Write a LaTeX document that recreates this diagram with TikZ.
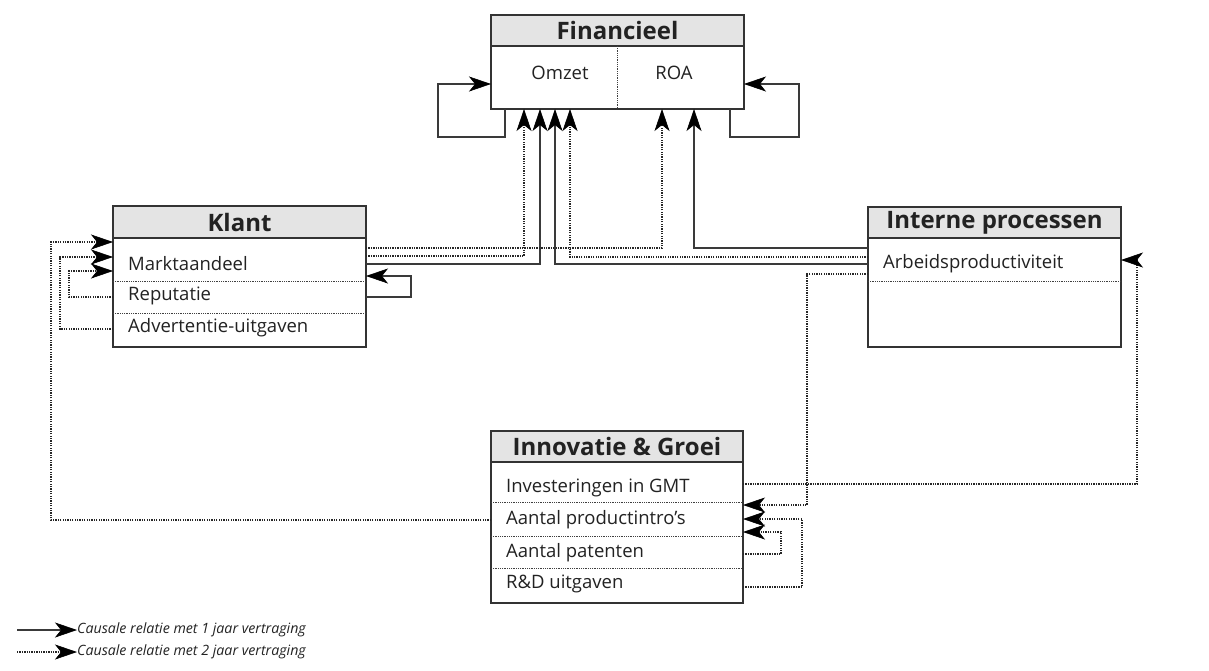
\documentclass[tikz,border=0pt]{standalone}
\usepackage{fontspec}
\setmainfont{Open Sans}
\usetikzlibrary{arrows.meta}
\definecolor{boxgray}{HTML}{333333}
\definecolor{headgray}{HTML}{E4E4E4}
\definecolor{linegray}{HTML}{3A3A3A}
\definecolor{txt}{HTML}{222222}
\begin{document}
\begin{tikzpicture}[x=1pt,y=-1pt,
  box/.style={draw=boxgray, line width=1.2pt, fill=white, anchor=north west, inner sep=0pt, outer sep=0pt},
  head/.style={draw=boxgray, line width=1.2pt, fill=headgray, anchor=north west, inner sep=0pt, outer sep=0pt, text=txt, font=\bfseries\fontsize{24}{27}\selectfont},
  rowtext/.style={anchor=west, inner sep=0pt, text=txt, font=\fontsize{18.5}{20}\selectfont},
  legtext/.style={anchor=west, inner sep=0pt, text=txt, font=\itshape\fontsize{14.2}{16}\selectfont},
  divider/.style={draw=black!75, line width=0.6pt, dash pattern=on 1pt off 0.8pt},
  tipc/.style={-{Stealth[length=22pt,width=15pt,inset=6pt,color=black,line width=0.6pt]}},
  solidc/.style={tipc, draw=linegray, line width=1.5pt},
  dotc/.style={tipc, draw=black!85, line width=1.1pt, dash pattern=on 1.3pt off 1.1pt},
]
\useasboundingbox (0,0) rectangle (1209,670);

% Financieel
\node[head, minimum width=253pt, minimum height=31pt] (finh) at (491,15) {Financieel};
\node[box, minimum width=253pt, minimum height=63pt] (fin) at (491,46) {};
\draw[divider] (fin.north) -- (fin.south);
\node[rowtext, anchor=center] (omzet) at (560,73) {Omzet};
\node[rowtext, anchor=center] (roa) at (674,73) {ROA};

% Klant
\node[head, minimum width=253pt, minimum height=32pt] (klanth) at (113,206) {Klant};
\node[box, minimum width=253pt, minimum height=109pt] (klant) at (113,238) {};
\draw[divider] (klant.west |- 0,281) -- (klant.east |- 0,281);
\draw[divider] (klant.west |- 0,313) -- (klant.east |- 0,313);
\node[rowtext] (markt) at (128,264) {Marktaandeel};
\node[rowtext] (rep) at (128,296) {Reputatie};
\node[rowtext] (adv) at (128,328) {Advertentie-uitgaven};

% Interne processen
\node[head, minimum width=253pt, minimum height=31pt] (inth) at (868,207) {Interne processen};
\node[box, minimum width=253pt, minimum height=109pt] (int) at (868,238) {};
\draw[divider] (int.west |- 0,281) -- (int.east |- 0,281);
\node[rowtext] (arb) at (883,264) {Arbeidsproductiviteit};

% Innovatie & Groei
\node[head, minimum width=252pt, minimum height=31pt] (innh) at (491,431) {Innovatie \& Groei};
\node[box, minimum width=252pt, minimum height=141pt] (inn) at (491,462) {};
\draw[divider] (inn.west |- 0,502) -- (inn.east |- 0,502);
\draw[divider] (inn.west |- 0,536) -- (inn.east |- 0,536);
\draw[divider] (inn.west |- 0,568) -- (inn.east |- 0,568);
\node[rowtext] (invest) at (506,488) {Investeringen in GMT};
\node[rowtext] (prod) at (506,520) {Aantal productintro's};
\node[rowtext] (pat) at (506,553) {Aantal patenten};
\node[rowtext] (rd) at (506,584) {R\&D uitgaven};

% Financieel self loops
\draw[solidc] (fin.south -| 505,0) |- (438,137) |- (fin.west |- 0,84);
\draw[solidc] (fin.south -| 730,0) |- (799,137) |- (fin.east |- 0,84);

% into Financieel
\draw[dotc] (klant.east |- 0,256) -| (fin.south -| 524,0);
\draw[solidc] (klant.east |- 0,264) -| (fin.south -| 540,0);
\draw[dotc] (klant.east |- 0,248) -| (fin.south -| 662,0);
\draw[solidc] (int.west |- 0,264) -| (fin.south -| 555,0);
\draw[dotc] (int.west |- 0,257) -| (fin.south -| 570,0);
\draw[solidc] (int.west |- 0,248) -| (fin.south -| 694,0);

% Klant loops
\draw[solidc] (klant.east |- 0,297) -| (411,276) -- (klant.east |- 0,276);
\draw[dotc] (inn.west |- 0,520) -| (51,242) -- (klant.west |- 0,242);
\draw[dotc] (klant.west |- 0,329) -| (60,257) -- (klant.west |- 0,257);
\draw[dotc] (klant.west |- 0,297) -| (69,271) -- (klant.west |- 0,271);

% Innovatie / Interne
\draw[dotc] (int.west |- 0,274) -| (807,505) -- (inn.east |- 0,505);
\draw[dotc] (inn.east |- 0,484) -| (1137,260) -- (int.east |- 0,260);
\draw[dotc] (inn.east |- 0,587) -| (802,519) -- (inn.east |- 0,519);
\draw[dotc] (inn.east |- 0,554) -| (781,532) -- (inn.east |- 0,532);

% Legend
\coordinate (l1) at (17,630);
\coordinate (l2) at (17,652);
\node[legtext] (leg1) at (77,630) {Causale relatie met 1 jaar vertraging};
\node[legtext] (leg2) at (77,652) {Causale relatie met 2 jaar vertraging};
\draw[solidc] (l1) -- (leg1.west);
\draw[dotc] (l2) -- (leg2.west);
\end{tikzpicture}
\end{document}
